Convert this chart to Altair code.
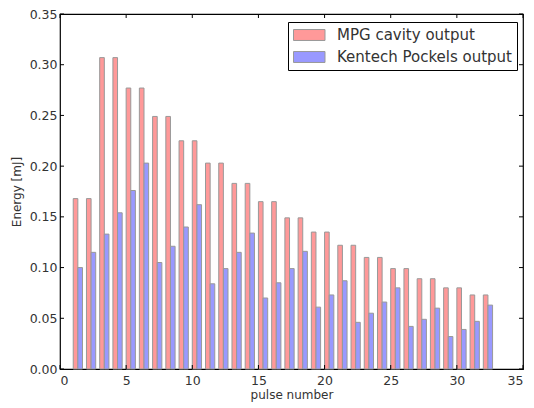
import altair as alt
import pandas as pd

pulses = list(range(1, 33))
mpg = [0.168, 0.168, 0.307, 0.307, 0.277, 0.277, 0.249, 0.249,
       0.225, 0.225, 0.203, 0.203, 0.183, 0.183, 0.165, 0.165,
       0.149, 0.149, 0.135, 0.135, 0.122, 0.122, 0.110, 0.110,
       0.099, 0.099, 0.089, 0.089, 0.080, 0.080, 0.073, 0.073]
kentech = [0.100, 0.115, 0.133, 0.154, 0.176, 0.203, 0.105, 0.121,
           0.140, 0.162, 0.084, 0.099, 0.115, 0.134, 0.070, 0.085,
           0.099, 0.116, 0.061, 0.073, 0.087, 0.046, 0.055, 0.066,
           0.080, 0.042, 0.049, 0.060, 0.032, 0.039, 0.047, 0.063]
series_names = ["MPG cavity output", "Kentech Pockels output"]
x_ticks = [0, 5, 10, 15, 20, 25, 30, 35]
y_ticks = [0.0, 0.05, 0.10, 0.15, 0.20, 0.25, 0.30, 0.35]

BAR_W = 0.35
W, H = 463, 355
FONT = "DejaVu Sans"
TXT = "#333333"

rows = []
for i, p in enumerate(pulses):
    rows.append({"pulse": p, "series": series_names[0], "k": 0, "value": mpg[i]})
    rows.append({"pulse": p, "series": series_names[1], "k": 1, "value": kentech[i]})
df = pd.DataFrame(rows)

xscale = alt.Scale(domain=[0, 35], nice=False, zero=False)
yscale = alt.Scale(domain=[0, 0.35], nice=False)

bars = alt.Chart(df).transform_calculate(
    x0=f"datum.pulse + datum.k * {BAR_W}",
    x1=f"datum.pulse + (datum.k + 1) * {BAR_W}",
).mark_bar(stroke="#999999", strokeWidth=1).encode(
    x=alt.X("x0:Q", scale=xscale,
            axis=alt.Axis(values=x_ticks, title="pulse number", format="d",
                          tickSize=0, labelPadding=5, domain=False, grid=False,
                          titlePadding=3, titleFontWeight="normal")),
    x2="x1:Q",
    y=alt.Y("value:Q", scale=yscale,
            axis=alt.Axis(values=y_ticks, title="Energy [mJ]", format=".2f",
                          tickSize=0, labelPadding=3, domain=False, grid=False,
                          titlePadding=6, titleFontWeight="normal")),
    y2=alt.datum(0),
    color=alt.Color("series:N",
                    scale=alt.Scale(domain=series_names, range=["#ff9999", "#9999ff"]),
                    legend=alt.Legend(title=None, orient="none", legendX=228, legendY=8,
                                      symbolType="M-1,-0.73H3.2V0.73H-1Z", symbolSize=225,
                                      symbolStrokeColor="#999999", symbolStrokeWidth=1,
                                      symbolOpacity=1,
                                      labelFontSize=15, labelFont=FONT, labelColor=TXT,
                                      labelOffset=28, rowPadding=6, labelLimit=400,
                                      strokeColor="black", fillColor="white",
                                      padding=5, cornerRadius=0)),
)

xt = pd.DataFrame({"t": x_ticks})
yt = pd.DataFrame({"t": y_ticks})

xb = alt.Chart(xt).mark_rule(color="black", strokeWidth=1).encode(
    x=alt.X("t:Q", scale=xscale), y=alt.value(H), y2=alt.value(H - 4))
xtop = alt.Chart(xt).mark_rule(color="black", strokeWidth=1).encode(
    x=alt.X("t:Q", scale=xscale), y=alt.value(0), y2=alt.value(4))
yl = alt.Chart(yt).mark_rule(color="black", strokeWidth=1).encode(
    y=alt.Y("t:Q", scale=yscale), x=alt.value(0), x2=alt.value(4))
yr = alt.Chart(yt).mark_rule(color="black", strokeWidth=1).encode(
    y=alt.Y("t:Q", scale=yscale), x=alt.value(W), x2=alt.value(W - 4))

chart = alt.layer(bars, xb, xtop, yl, yr).properties(
    width=W, height=H,
    autosize=alt.AutoSizeParams(type="none"),
    padding={"left": 60, "top": 14, "right": 11, "bottom": 39},
    background="white",
).configure_view(
    stroke="black", strokeWidth=1.2
).configure_axis(
    labelFont=FONT, titleFont=FONT, labelFontSize=12.5, titleFontSize=12,
    labelColor=TXT, titleColor=TXT, titleFontWeight="normal",
)

chart.save("out.html", embed_options={"renderer": "svg", "actions": False})
